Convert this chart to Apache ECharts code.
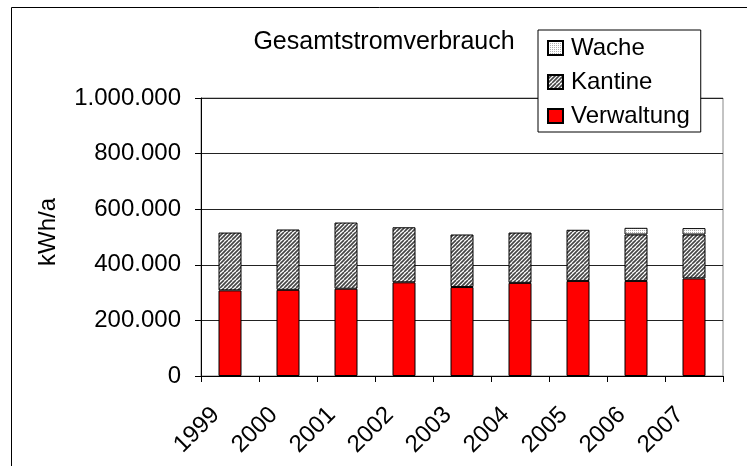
<!DOCTYPE html>
<html>
<head>
<meta charset="utf-8">
<script src="https://cdn.jsdelivr.net/npm/echarts@6/dist/echarts.min.js"></script>
<style>
html,body{margin:0;padding:0;background:#fff;}
#chart{width:747px;height:466px;}
</style>
</head>
<body>
<div id="chart"></div>
<script>
const years = ['1999','2000','2001','2002','2003','2004','2005','2006','2007'];
const verwaltung = [308000, 310000, 314000, 337000, 320000, 335000, 342000, 342000, 351000];
const kantine = [208000, 217000, 238000, 198000, 189000, 181000, 184000, 167000, 158000];
const wache = [null, null, null, null, null, null, null, 24000, 23000];
const yTicks = [0, 200000, 400000, 600000, 800000, 1000000];

function hatchPattern() {
  const c = document.createElement('canvas');
  c.width = 8; c.height = 8;
  const g = c.getContext('2d');
  g.fillStyle = '#fff'; g.fillRect(0,0,8,8);
  g.strokeStyle = '#444'; g.lineWidth = 1.6;
  for (let k = -8; k <= 16; k += 4) {
    g.beginPath(); g.moveTo(k, 8); g.lineTo(k + 8, 0); g.stroke();
  }
  return {image: c, repeat: 'repeat'};
}
function dotPattern() {
  const c = document.createElement('canvas');
  c.width = 4; c.height = 4;
  const g = c.getContext('2d');
  g.fillStyle = '#fff'; g.fillRect(0,0,4,4);
  g.fillStyle = '#b0b0b0';
  g.fillRect(0,0,1,1); g.fillRect(2,2,1,1); g.fillRect(2,0,1,1); g.fillRect(0,2,1,1);
  return {image: c, repeat: 'repeat'};
}
function fmt(v) {
  return String(v).replace(/\B(?=(\d{3})+(?!\d))/g, '.');
}

const FONT = "'Liberation Sans', Arial, sans-serif";
const chart = echarts.init(document.getElementById('chart'), null, {renderer: 'canvas'});
chart.setOption({
  animation: false,
  backgroundColor: '#fff',
  textStyle: {fontFamily: FONT, color: '#000'},
  title: {
    text: 'Gesamtstromverbrauch',
    left: 379, top: 25, textAlign: 'center',
    textStyle: {fontFamily: FONT, fontSize: 25, fontWeight: 'normal', color: '#000'}
  },
  legend: {
    orient: 'vertical',
    left: 538, top: 30,
    data: ['Wache', 'Kantine', 'Verwaltung'],
    backgroundColor: '#fff',
    borderColor: '#000', borderWidth: 1, borderRadius: 0,
    padding: [6, 11, 4, 9],
    itemWidth: 15, itemHeight: 14, itemGap: 10,
    icon: 'rect',
    textStyle: {fontFamily: FONT, fontSize: 24, lineHeight: 24, color: '#000', padding: [0,0,0,3]}
  },
  graphic: [{
    type: 'rect', silent: true, z: -1,
    shape: {x: 11.5, y: 7.5, width: 900, height: 600},
    style: {fill: 'none', stroke: '#000', lineWidth: 1}
  }],
  grid: {
    left: 201, right: 24, top: 98, bottom: 90,
    show: true, borderColor: '#888', borderWidth: 1
  },
  xAxis: {
    type: 'category', data: years,
    axisLine: {lineStyle: {color: '#000', width: 1}},
    axisTick: {show: true, length: 6, lineStyle: {color: '#000'}},
    axisLabel: {rotate: 45, fontSize: 24, fontFamily: FONT, color: '#000', margin: 21,
      padding: [0, 20, 0, 0]}
  },
  yAxis: {
    type: 'value', min: 0, max: 1000000, interval: 200000,
    name: 'kWh/a', nameLocation: 'middle', nameGap: 141,
    nameTextStyle: {fontFamily: FONT, fontSize: 24, color: '#000', padding: [0, 0, 0, 10]},
    axisLine: {show: true, lineStyle: {color: '#000', width: 1}},
    axisTick: {show: true, length: 6, lineStyle: {color: '#000'}},
    axisLabel: {fontSize: 24, fontFamily: FONT, color: '#000', margin: 20,
      formatter: v => yTicks.includes(v) ? fmt(v) : ''},
    splitLine: {lineStyle: {color: '#222', width: 1}}
  },
  series: [
    {name: 'Verwaltung', type: 'bar', stack: 's', data: verwaltung, barWidth: 23,
     itemStyle: {color: '#ff0000', borderColor: '#000', borderWidth: 1}},
    {name: 'Kantine', type: 'bar', stack: 's', data: kantine, barWidth: 23,
     itemStyle: {color: hatchPattern(), borderColor: '#000', borderWidth: 1}},
    {name: 'Wache', type: 'bar', stack: 's', data: wache, barWidth: 23,
     itemStyle: {color: dotPattern(), borderColor: '#000', borderWidth: 1}}
  ]
});
</script>
</body>
</html>
